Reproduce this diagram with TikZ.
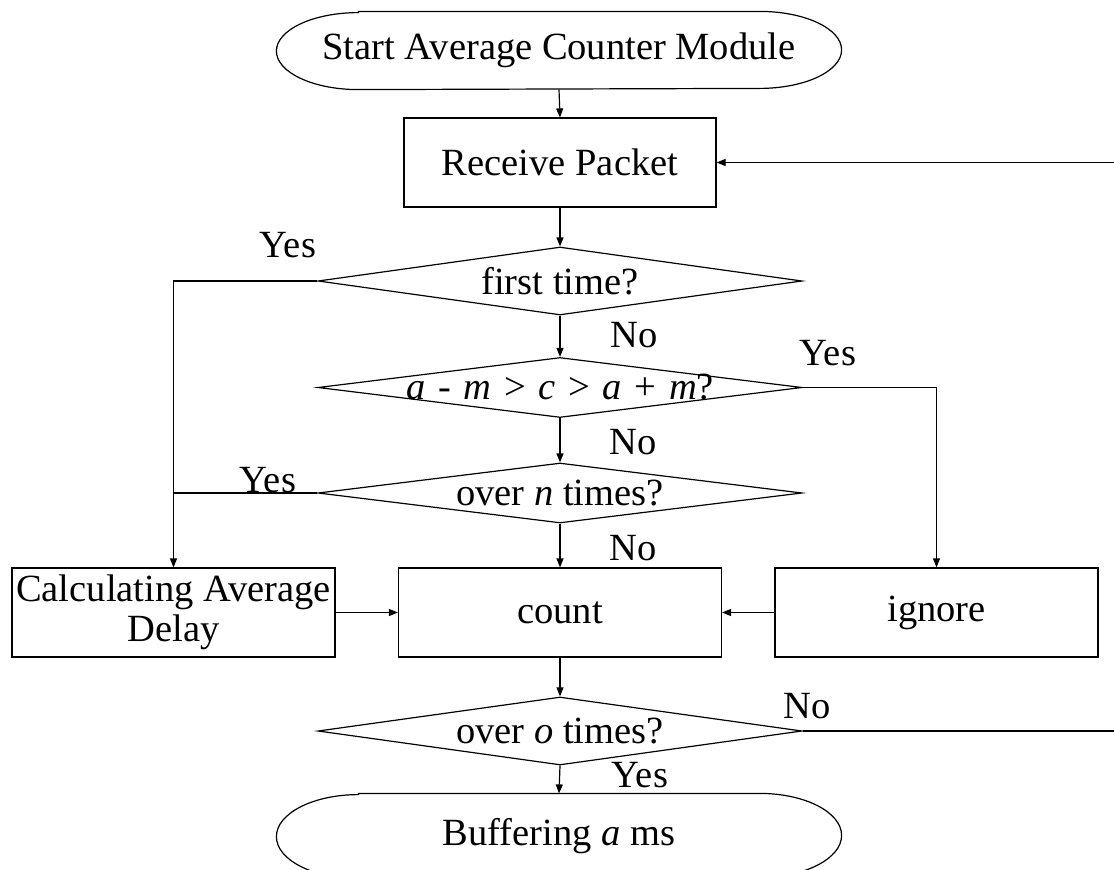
\documentclass[tikz,border=0pt]{standalone}
\usepackage{fontspec}
\setmainfont{Liberation Serif}
\usetikzlibrary{shapes.geometric,arrows.meta}

\begin{document}
\begin{tikzpicture}[x=1pt,y=-1pt,line width=1.2pt,
  every node/.style={font=\fontsize{38.5}{40}\selectfont},
  terminal/.style={minimum width=564pt,minimum height=77pt,inner sep=0pt},
  box/.style={draw,minimum width=323pt,minimum height=89pt,inner sep=0pt,align=center},
  decision/.style={diamond,draw,minimum width=484pt,minimum height=68pt,inner sep=0pt},
  lbl/.style={inner sep=0pt},
  arr/.style={-{Triangle[length=9pt,width=7pt]}}]

% canvas
\useasboundingbox (0,0) rectangle (1114,870);
\fill[white] (0,0) rectangle (1114,870);
\clip (0,0) rectangle (1114,870);

% terminals: flat top and bottom with elliptical ends
\node[terminal] (start) at (559,50.5) {Start Average Counter Module};
\draw ([xshift=82pt]start.north west) -- ([xshift=-82pt]start.north east)
  arc[start angle=90,end angle=-90,x radius=82pt,y radius=38.5pt]
  -- ([xshift=82pt]start.south west)
  arc[start angle=270,end angle=90,x radius=82pt,y radius=38.5pt] -- cycle;

\node[terminal,minimum height=84pt] (buf) at (559,836) {Buffering \textit{a} ms};
\draw ([xshift=82pt]buf.north west) -- ([xshift=-82pt]buf.north east)
  arc[start angle=90,end angle=-90,x radius=82pt,y radius=42pt]
  -- ([xshift=82pt]buf.south west)
  arc[start angle=270,end angle=90,x radius=82pt,y radius=42pt] -- cycle;

% process boxes
\node[box,minimum width=312pt] (recv) at (560,162.5) {Receive Packet};
\node[box] (calc) at (173.5,612.5) {Calculating Average\\Delay};
\node[box] (count) at (560,612.5) {count};
\node[box] (ign) at (936.5,612.5) {ignore};

% decisions
\node[decision] (d1) at (560,281) {\makebox[0pt]{first time?}};
\node[decision,minimum height=60pt] (d2) at (560,387.5)
  {\makebox[0pt]{\spaceskip=0.33em\relax
   \textit{a} - \textit{m} > \textit{c} > \textit{a} + \textit{m}?}};
\node[decision,minimum height=60pt] (d3) at (560,493)
  {\makebox[0pt]{over \textit{n} times?}};
\node[decision] (d4) at (560,731) {\makebox[0pt]{over \textit{o} times?}};

% return path off the right edge
\coordinate (back) at (1122,0);

% connectors
\draw[arr] (start.south) -- (recv.north);
\draw[arr] (recv.south) -- (d1.north);
\draw[arr] (d1.west) -| (calc.north);
\draw[arr] (d1.south) -- (d2.north);
\draw[arr] (d2.east) -| (ign.north);
\draw[arr] (d2.south) -- (d3.north);
\draw (d3.west) -- (d3.west -| calc.north);
\draw[arr] (d3.south) -- (count.north);
\draw[arr] (calc.east) -- (count.west);
\draw[arr] (ign.west) -- (count.east);
\draw[arr] (count.south) -- (d4.north);
\draw[arr] (d4.south) -- (buf.north);
\draw[arr] (d4.east) -- (d4.east -| back) |- (recv.east);

% branch labels
\node[lbl] (y1) at (288,245) {Yes};
\node[lbl] (n1) at (634,335) {No};
\node[lbl] (y2) at (828,353) {Yes};
\node[lbl] (n2) at (633,442) {No};
\node[lbl] (y3) at (268,480) {Yes};
\node[lbl] (n3) at (633,548) {No};
\node[lbl] (n4) at (807,706) {No};
\node[lbl] (y4) at (640,775) {Yes};
\end{tikzpicture}
\end{document}
